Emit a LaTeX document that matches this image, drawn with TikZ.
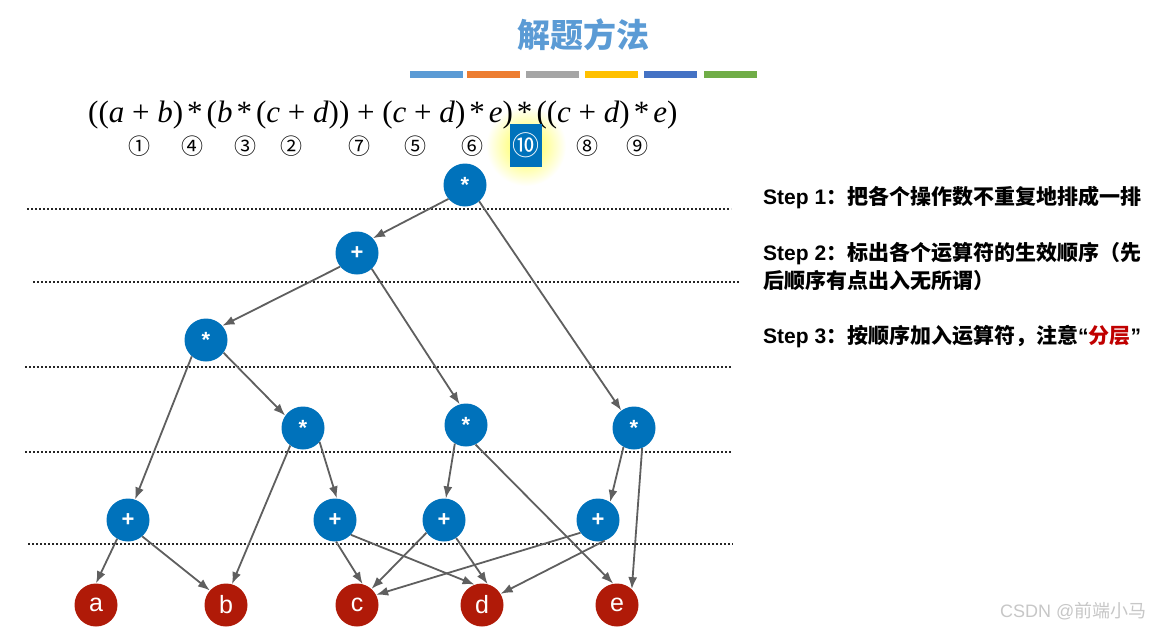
\documentclass[tikz,border=0pt]{standalone}
\usepackage{fontspec}
\setsansfont{Liberation Sans}
\newfontfamily\cjk{Noto Sans CJK SC}
\newfontfamily\exprfont{Liberation Serif}
\usetikzlibrary{arrows.meta,positioning}
\definecolor{opblue}{RGB}{0,114,187}
\definecolor{leafred}{RGB}{176,26,8}
\definecolor{edgegray}{RGB}{95,95,95}
\definecolor{titleblue}{RGB}{91,155,213}
\definecolor{barorange}{RGB}{237,125,49}
\definecolor{bargray}{RGB}{165,165,165}
\definecolor{baryellow}{RGB}{255,192,0}
\definecolor{bardarkblue}{RGB}{68,114,196}
\definecolor{bargreen}{RGB}{112,173,71}
\definecolor{stepred}{RGB}{192,0,0}
\newcommand{\exprplus}{\hspace{0.25em}+\hspace{0.25em}}
\newcommand{\exprtimes}{\hspace{0.13em}*\hspace{0.13em}}

\begin{document}
\begin{tikzpicture}[
    x=1pt, y=-1pt,
    op/.style={circle, fill=opblue, text=white, minimum size=43pt, inner sep=0pt, font=\sffamily\bfseries\fontsize{22}{22}\selectfont},
    leaf/.style={circle, fill=leafred, text=white, minimum size=43pt, inner sep=0pt, font=\sffamily\fontsize{25}{25}\selectfont},
    arrow/.style={-{Latex[length=12pt,width=9pt]}, line width=1.8pt, edgegray},
    level/.style={line width=1.8pt, dash pattern=on 1.6pt off 2.4pt, black!85},
    steptext/.style={anchor=base west, inner sep=0pt, font=\bfseries\fontsize{21}{21}\selectfont},
    num/.style={font=\cjk\fontsize{22}{22}\selectfont, inner sep=0pt}
]
\fill[white] (0,0) rectangle (1176,632);
\useasboundingbox (0,0) rectangle (1176,632);

% Title and colour bars
\node[text=titleblue, font=\cjk\bfseries\fontsize{33}{33}\selectfont] (title) at (583,35) {解题方法};
\foreach \c/\x in {titleblue/410, barorange/467, bargray/526, baryellow/585, bardarkblue/644, bargreen/704}
  \fill[\c] (\x,71) rectangle ++(53,7);

% Expression with order of evaluation
\shade[inner color=yellow!75, outer color=white] (526,146) circle (40);
\node[anchor=base west, inner sep=0pt, font=\exprfont\fontsize{31}{31}\selectfont] (expr) at (88,122)
  {((\textit{a}\exprplus\textit{b})\exprtimes(\textit{b}\exprtimes(\textit{c}\exprplus\textit{d}))\exprplus(\textit{c}\exprplus\textit{d})\exprtimes\textit{e})\exprtimes((\textit{c}\exprplus\textit{d})\exprtimes\textit{e})};
\foreach \s/\x [count=\i] in {①/139, ④/192, ③/245, ②/291, ⑦/359, ⑤/415, ⑥/472, ⑧/587, ⑨/637}
  \node[num] (n\i) at (\x,146) {\s};
\node[fill=opblue, text=white, minimum width=32pt, minimum height=43pt, inner sep=0pt, font=\cjk\fontsize{27}{27}\selectfont] (n10) at (526,145.5) {⑩};

% Layers
\draw[level] (27,209) -- (731,209);
\draw[level] (33,282) -- (740,282);
\draw[level] (25,367) -- (731,367);
\draw[level] (25,452) -- (731,452);
\draw[level] (28,544) -- (733,544);

% Operators
\node[op] (root) at (465,185) {*};
\node[op] (plus1) at (357,253) {+};
\node[op] (mul1) at (206,340) {*};
\node[op] (mul2) at (303,428) {*};
\node[op] (mul3) at (466,425) {*};
\node[op] (mul4) at (634,428) {*};
\node[op] (add1) at (128,520) {+};
\node[op] (add2) at (335,520) {+};
\node[op] (add3) at (444,520) {+};
\node[op] (add4) at (598,520) {+};

% Operands
\node[leaf] (a) at (96,605) {a};
\node[leaf] (b) at (226,605) {b};
\node[leaf] (c) at (357,605) {c};
\node[leaf] (d) at (482,605) {d};
\node[leaf] (e) at (617,605) {e};

% Arrows
\draw[arrow] (root.-140) -- (plus1.43);
\draw[arrow] (root.-49) -- (mul4.126);
\draw[arrow] (plus1.-141) -- (mul1.41);
\draw[arrow] (plus1.-47) -- (mul3.107);
\draw[arrow] (mul1.-131) -- (add1.71);
\draw[arrow] (mul1.-36) -- (mul2.145);
\draw[arrow] (mul2.-126) -- (b.74);
\draw[arrow] (mul2.-40) -- (add2.85);
\draw[arrow] (mul3.-121) -- (add3.85);
\draw[arrow] (mul3.-64) -- (e.100);
\draw[arrow] (mul4.-119) -- (add4.56);
\draw[arrow] (mul4.-68) -- (e.47);
\draw[arrow] (add1.-120) -- (a.90);
\draw[arrow] (add1.-49) -- (b.138);
\draw[arrow] (add2.-87) -- (c.75);
\draw[arrow] (add2.-43) -- (d.110);
\draw[arrow] (add3.-144) -- (c.48);
\draw[arrow] (add3.-56) -- (d.75);
\draw[arrow] (add4.-144) -- (c.28);
\draw[arrow] (add4.-72) -- (d.31);

% Steps
\node[steptext] (step1) at (763,204) {\sffamily Step 1\cjk：把各个操作数不重复地排成一排};
\node[steptext] (step2) at (763,260) {\sffamily Step 2\cjk：标出各个运算符的生效顺序（先};
\node[steptext] (step2b) at (763,288) {\cjk 后顺序有点出入无所谓）};
\node[steptext] (step3) at (763,343) {\sffamily Step 3\cjk：按顺序加入运算符，注意\sffamily“\cjk\textcolor{stepred}{分层}\sffamily”};

% Watermark
\node[anchor=base west, inner sep=0pt, text=black!22, font=\fontsize{18}{18}\selectfont] (mark) at (1000,617) {\sffamily CSDN @\cjk 前端小马};

\end{tikzpicture}
\end{document}
